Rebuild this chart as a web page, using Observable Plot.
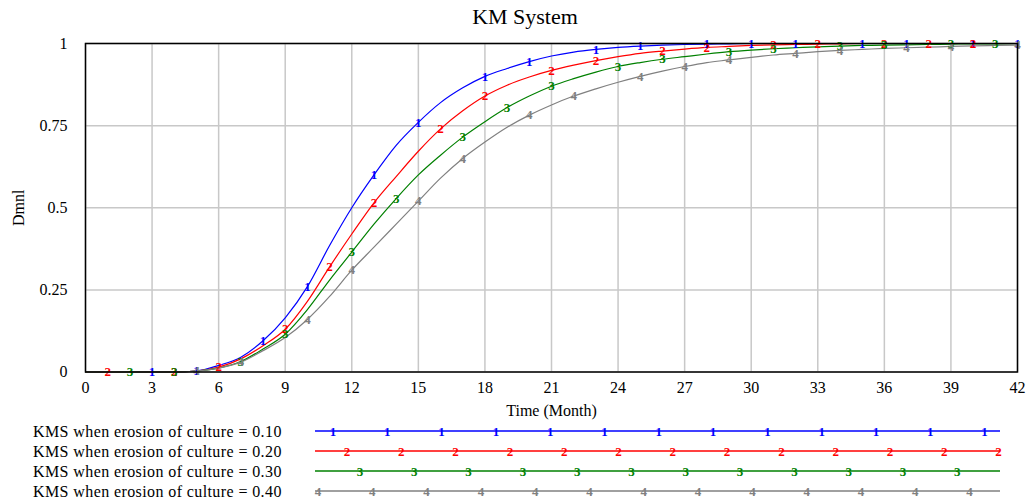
<!DOCTYPE html>
<html>
<head>
<meta charset="utf-8">
<script src="https://cdn.jsdelivr.net/npm/d3@7"></script>
<script src="https://cdn.jsdelivr.net/npm/@observablehq/plot@0.6"></script>
<style>
  body { margin: 0; background: #fff; font-family: "Liberation Serif", "Times New Roman", serif; }
  #wrap { position: relative; width: 1027px; height: 504px; overflow: hidden; }
  #title { height: 30px; width: 1050px; text-align: center; font-size: 22px; line-height: 34px; color: #000; }
  svg { display: block; }
</style>
</head>
<body>
<div id="wrap">
  <div id="title">KM System</div>
  <div id="chart"></div>
  <div id="legend"></div>
</div>
<script>
// ---- data ----
const months = d3.range(0, 43);
const seriesNames = [
  "KMS when erosion of culture = 0.10",
  "KMS when erosion of culture = 0.20",
  "KMS when erosion of culture = 0.30",
  "KMS when erosion of culture = 0.40"
];
const seriesSymbols = ["1", "2", "3", "4"];
const seriesColors = ["#0000ff", "#ff0000", "#008000", "#808080"];

const kms010 = [0, 0, 0, 0, 0, 0.003, 0.02, 0.045, 0.095, 0.165, 0.26, 0.385, 0.50, 0.60, 0.69, 0.76, 0.82, 0.865, 0.90, 0.924, 0.945, 0.962, 0.974, 0.982, 0.988, 0.992, 0.995, 0.997, 0.998, 0.999, 1, 1, 1, 1, 1, 1, 1, 1, 1, 1, 1, 1, 1];
const kms020 = [0, 0, 0, 0, 0, 0.003, 0.015, 0.04, 0.08, 0.13, 0.215, 0.32, 0.42, 0.515, 0.595, 0.672, 0.74, 0.795, 0.84, 0.873, 0.898, 0.918, 0.934, 0.948, 0.96, 0.97, 0.977, 0.983, 0.988, 0.991, 0.994, 0.996, 0.997, 0.998, 0.999, 1, 1, 1, 1, 1, 1, 1, 1];
const kms030 = [0, 0, 0, 0, 0, 0.003, 0.012, 0.032, 0.07, 0.115, 0.19, 0.28, 0.365, 0.45, 0.528, 0.60, 0.66, 0.715, 0.762, 0.805, 0.84, 0.87, 0.893, 0.913, 0.93, 0.942, 0.952, 0.96, 0.968, 0.975, 0.98, 0.984, 0.987, 0.99, 0.992, 0.994, 0.995, 0.996, 0.997, 0.998, 0.999, 0.999, 1];
const kms040 = [0, 0, 0, 0, 0, 0.003, 0.012, 0.03, 0.065, 0.105, 0.16, 0.23, 0.31, 0.38, 0.45, 0.52, 0.59, 0.65, 0.70, 0.745, 0.782, 0.813, 0.84, 0.862, 0.882, 0.90, 0.916, 0.93, 0.942, 0.95, 0.958, 0.965, 0.97, 0.975, 0.979, 0.982, 0.985, 0.987, 0.989, 0.991, 0.993, 0.994, 0.995];

const markers010 = [3, 5, 8, 10, 13, 15, 18, 20, 23, 25, 28, 30, 32, 35, 37, 40, 42];
const markers020 = [1, 4, 6, 9, 11, 13, 16, 18, 21, 23, 26, 28, 31, 33, 36, 38, 40];
const markers030 = [2, 4, 7, 9, 12, 14, 17, 19, 21, 24, 26, 29, 31, 34, 36, 39, 41];
const markers040 = [5, 7, 10, 12, 15, 17, 20, 22, 25, 27, 29, 32, 34, 37, 39, 42];

const xTicks = [0, 3, 6, 9, 12, 15, 18, 21, 24, 27, 30, 33, 36, 39, 42];
const yTicks = [0, 0.25, 0.5, 0.75, 1];
const yTickLabels = ["0", "0.25", "0.5", "0.75", "1"];

// ---- build tables ----
const allValues = [kms010, kms020, kms030, kms040];
const allMarkers = [markers010, markers020, markers030, markers040];
const rows = [];
allValues.forEach((vals, i) => months.forEach((m, j) => rows.push({t: m, v: vals[j], s: seriesNames[i]})));
const markRows = [];
allMarkers.forEach((ms, i) => ms.forEach(m => markRows.push({t: m, v: allValues[i][months.indexOf(m)], s: seriesNames[i], sym: seriesSymbols[i]})));

const FONT = '"Liberation Serif", "Times New Roman", serif';

const chart = Plot.plot({
  width: 1027,
  height: 390,
  marginLeft: 85,
  marginRight: 10,
  marginTop: 13,
  marginBottom: 48.5,
  style: {fontFamily: FONT, fontSize: "16px", color: "#000", background: "#fff"},
  x: {domain: [0, 42], ticks: xTicks, tickSize: 0, tickPadding: 10, label: "Time (Month)", labelAnchor: "center", labelArrow: "none", labelOffset: 44},
  y: {domain: [0, 1], ticks: yTicks, tickFormat: (d) => yTickLabels[yTicks.indexOf(d)], tickSize: 0, tickPadding: 18, label: "Dmnl", labelAnchor: "center", labelArrow: "none", labelOffset: 73},
  color: {domain: seriesNames, range: seriesColors},
  marks: [
    Plot.gridX(xTicks, {stroke: "#c8c8c8", strokeOpacity: 1, strokeWidth: 1.5}),
    Plot.gridY(yTicks, {stroke: "#c8c8c8", strokeOpacity: 1, strokeWidth: 1.5}),
    Plot.line(rows, {x: "t", y: "v", z: "s", stroke: "s", strokeWidth: 1.2, curve: "monotone-x"}),
    Plot.text(markRows, {x: "t", y: "v", text: "sym", fill: "s", fontSize: 13, fontWeight: "bold", fontFamily: FONT}),
    Plot.frame({stroke: "#000", strokeWidth: 1.5})
  ]
});
document.getElementById("chart").appendChild(chart);

// ---- legend ----
const legendStarts = [333, 347, 360, 318];
const lsvg = d3.select("#legend").append("svg").attr("width", 1027).attr("height", 84);
seriesNames.forEach((name, i) => {
  const cy = 11 + i * 20;
  lsvg.append("text").attr("x", 33).attr("y", cy + 6).attr("font-family", FONT).attr("font-size", 16)
    .attr("letter-spacing", "0.4px").attr("fill", "#000").text(name);
  lsvg.append("line").attr("x1", 315).attr("x2", 1000).attr("y1", cy).attr("y2", cy).attr("stroke", seriesColors[i]).attr("stroke-width", 1.5);
  for (let x = legendStarts[i]; x <= 1001; x += 54.3) {
    lsvg.append("text").attr("x", x).attr("y", cy).attr("dy", "0.35em").attr("text-anchor", "middle")
      .attr("font-family", FONT).attr("font-size", 13).attr("font-weight", "bold").attr("fill", seriesColors[i]).text(seriesSymbols[i]);
  }
});
</script>
</body>
</html>
